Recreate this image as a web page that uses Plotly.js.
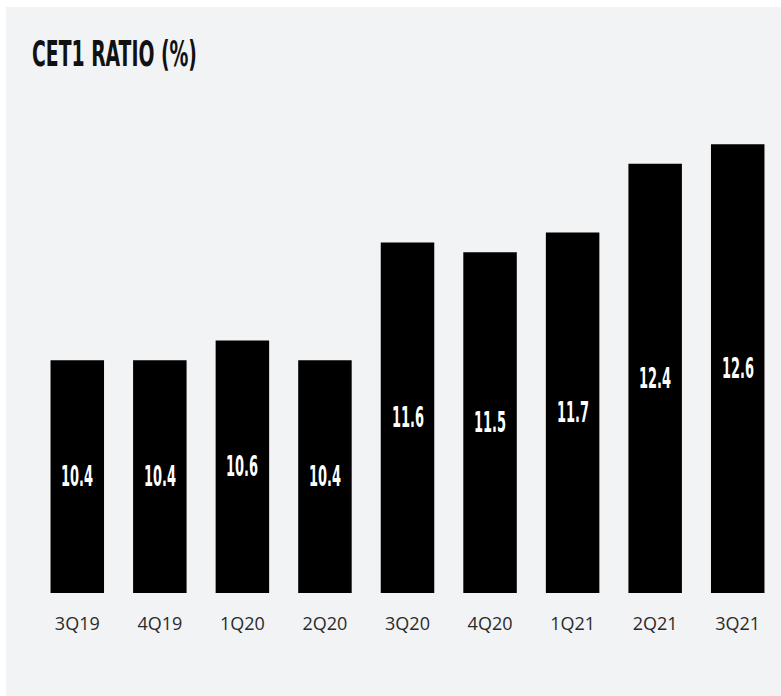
<!DOCTYPE html>
<html>
<head>
<meta charset="utf-8">
<script src="https://cdn.plot.ly/plotly-3.0.1.min.js"></script>
<style>
  html, body { margin: 0; padding: 0; background: #ffffff; width: 781px; height: 696px; overflow: hidden; }
  #chart { position: absolute; left: 6px; top: 7px; width: 775px; height: 689px; }
</style>
</head>
<body>
<div id="chart"></div>
<script>
const quarters = ["3Q19", "4Q19", "1Q20", "2Q20", "3Q20", "4Q20", "1Q21", "2Q21", "3Q21"];
const cet1Ratio = [10.4, 10.4, 10.6, 10.4, 11.6, 11.5, 11.7, 12.4, 12.6];
const chartTitle = "CET1 RATIO (%)";

const yMin = 8.03, yMax = 13.05;
const condensed = "DejaVu Sans Condensed, DejaVu Sans, sans-serif";

const trace = {
  type: "bar",
  x: quarters,
  y: cet1Ratio,
  marker: { color: "#000000", line: { width: 0 } },
  hoverinfo: "none"
};

// value labels centred in the visible part of each bar
const valueLabels = quarters.map((q, i) => ({
  x: q,
  y: (yMin + cet1Ratio[i]) / 2,
  xref: "x", yref: "y",
  text: cet1Ratio[i].toFixed(1),
  showarrow: false,
  xanchor: "center", yanchor: "middle",
  font: { family: condensed, size: 28, weight: "bold", color: "#ffffff" }
}));

const layout = {
  width: 775,
  height: 689,
  margin: { l: 30, r: 2, t: 93, b: 103 },
  paper_bgcolor: "#f2f3f5",
  plot_bgcolor: "#f2f3f5",
  showlegend: false,
  bargap: 0.352,
  title: {
    text: chartTitle,
    font: { family: condensed, size: 36, weight: "bold", color: "#111111" },
    xref: "container", x: 26 / 775, xanchor: "left",
    yref: "container", y: 1 - 46 / 689, yanchor: "middle"
  },
  xaxis: {
    type: "category",
    showgrid: false, zeroline: false, showline: false,
    ticks: "",
    ticklabelstandoff: 18,
    tickfont: { family: "Open Sans", size: 18, color: "#2a2a2a" }
  },
  yaxis: {
    range: [yMin, yMax],
    visible: false,
    showgrid: false, zeroline: false
  },
  annotations: valueLabels
};

function squeeze(el, sx, anchor) {
  const bb = el.getBBox();
  const cx = anchor === "start" ? bb.x : bb.x + bb.width / 2;
  const prev = el.getAttribute("transform") || "";
  el.setAttribute("transform", prev + " translate(" + cx + ",0) scale(" + sx + ",1) translate(" + (-cx) + ",0)");
}

Plotly.newPlot("chart", [trace], layout, { staticPlot: true, displayModeBar: false }).then(gd => {
  const t = gd.querySelector(".gtitle");
  if (t) squeeze(t, 165 / t.getBBox().width, "start");
  const anns = gd.querySelectorAll(".annotation-text");
  if (anns.length) {
    const sx = 32 / anns[0].getBBox().width;
    anns.forEach(a => squeeze(a, sx, "middle"));
  }
});
</script>
</body>
</html>
